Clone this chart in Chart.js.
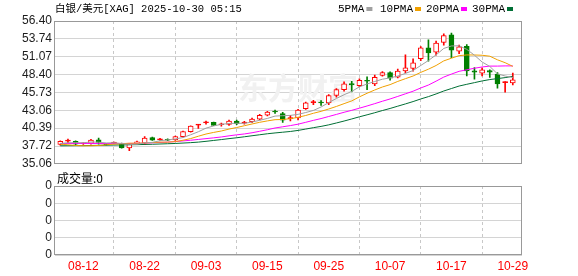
<!DOCTYPE html>
<html>
<head>
<meta charset="utf-8">
<script src="https://cdn.jsdelivr.net/npm/chart.js@4.4.1/dist/chart.umd.min.js"></script>
<style>
  body { margin: 0; background: #fff; }
  #wrap { position: relative; width: 578px; height: 276px; }
  canvas { position: absolute; left: 0; }
  #main { top: 0; }
  #vol { top: 166px; }
</style>
</head>
<body>
<div id="wrap">
  <canvas id="main" width="578" height="174"></canvas>
  <canvas id="vol" width="578" height="110"></canvas>
</div>
<script>
var dates = ['08-07','08-08','08-11','08-12','08-13','08-14','08-15','08-18','08-19','08-20',
  '08-21','08-22','08-25','08-26','08-27','08-28','08-29','09-01','09-02','09-03',
  '09-04','09-05','09-08','09-09','09-10','09-11','09-12','09-15','09-16','09-17',
  '09-18','09-19','09-22','09-23','09-24','09-25','09-26','09-29','09-30','10-01',
  '10-02','10-03','10-06','10-07','10-08','10-09','10-10','10-13','10-14','10-15',
  '10-16','10-17','10-20','10-21','10-22','10-23','10-24','10-27','10-28','10-29'];

var open = [37.95,38.45,38.40,38.05,38.10,38.63,37.95,38.15,38.10,37.42,
  38.12,38.15,38.99,38.65,38.70,38.63,39.13,39.87,40.85,41.20,
  41.24,40.90,40.95,41.44,41.15,41.35,41.73,42.32,42.95,42.57,
  41.80,41.90,43.30,44.20,44.30,44.15,45.27,46.15,47.05,46.75,
  47.55,47.00,48.25,48.68,48.00,48.94,49.32,50.76,52.40,51.76,
  53.21,54.34,51.88,52.62,48.94,48.60,49.00,48.45,47.20,47.13];
var high = [38.50,38.74,38.50,38.20,38.70,38.89,38.05,38.30,38.15,38.05,
  38.45,39.13,39.05,38.85,38.80,39.20,39.95,40.75,40.97,41.45,
  41.30,41.15,41.60,41.60,41.40,41.90,42.45,42.90,43.10,42.75,
  42.32,43.20,44.30,44.55,44.50,45.40,46.30,47.30,47.40,47.75,
  48.05,48.30,48.85,48.80,49.20,51.35,50.75,52.57,53.58,53.40,
  54.50,54.60,52.80,52.87,49.44,49.40,49.10,48.70,47.35,48.60];
var low = [37.85,38.22,37.90,37.95,38.00,38.00,37.85,38.05,37.40,37.02,
  38.05,37.93,38.55,38.55,38.50,38.55,39.05,39.80,40.36,41.00,
  40.75,40.70,40.80,40.90,41.00,41.20,41.60,42.20,42.60,41.24,
  41.45,41.60,43.20,43.90,43.80,43.90,45.00,45.90,45.80,46.60,
  46.15,46.75,48.15,47.55,47.90,48.65,48.90,50.46,50.40,51.30,
  52.80,50.91,51.50,48.20,47.72,48.20,47.97,46.35,45.75,46.83];
var close = [38.40,38.52,38.00,38.10,38.60,38.25,37.90,38.20,37.45,38.00,
  38.35,38.89,38.59,38.72,38.58,39.13,39.87,40.70,40.95,41.28,
  40.80,41.00,41.44,41.05,41.28,41.73,42.32,42.80,42.80,41.58,
  41.95,43.10,44.19,44.35,44.15,45.27,46.15,47.00,46.85,47.55,
  47.40,48.00,48.68,47.85,48.92,49.42,50.15,52.40,51.62,53.10,
  54.22,52.03,52.53,48.94,48.75,49.09,48.75,46.98,47.32,47.61];

var ma5 = [38.10,38.20,38.22,38.20,38.32,38.29,38.17,38.21,38.08,37.96,
  37.98,38.18,38.26,38.51,38.63,38.78,38.98,39.40,39.85,40.39,
  40.72,40.95,41.09,41.11,41.11,41.30,41.56,41.84,42.19,42.25,
  42.29,42.45,42.72,43.03,43.55,44.21,44.82,45.38,45.88,46.56,
  46.99,47.36,47.70,47.90,48.17,48.57,49.00,49.75,50.50,51.34,
  52.30,52.67,52.70,52.16,51.29,50.27,49.61,48.50,48.18,47.95];
var ma10 = [38.00,37.90,37.80,37.75,37.75,37.80,37.90,38.00,38.05,38.14,
  38.14,38.17,38.23,38.30,38.29,38.38,38.58,38.83,39.18,39.51,
  39.75,39.96,40.25,40.48,40.75,41.01,41.26,41.47,41.65,41.68,
  41.80,42.01,42.28,42.61,42.90,43.25,43.63,44.05,44.46,45.06,
  45.60,46.09,46.54,46.89,47.37,47.78,48.18,48.72,49.20,49.75,
  50.44,50.84,51.22,51.33,51.32,51.28,51.14,50.60,50.17,49.62];
var ma20 = [38.10,38.10,38.10,38.10,38.10,38.10,38.10,38.10,38.10,38.10,
  38.12,38.15,38.20,38.25,38.30,38.38,38.48,38.58,38.70,38.82,
  38.94,39.07,39.24,39.39,39.52,39.70,39.92,40.15,40.41,40.59,
  40.77,40.98,41.26,41.55,41.82,42.13,42.44,42.76,43.05,43.37,
  43.70,44.05,44.41,44.75,45.13,45.52,45.91,46.39,46.83,47.41,
  48.02,48.47,48.88,49.11,49.34,49.53,49.66,49.66,49.69,49.69];
var ma30 = [37.75,37.76,37.77,37.78,37.80,37.82,37.84,37.86,37.88,37.90,
  37.92,37.95,37.98,38.02,38.06,38.10,38.16,38.22,38.30,38.42,
  38.55,38.68,38.82,38.95,39.10,39.25,39.40,39.55,39.67,39.78,
  39.89,40.05,40.25,40.46,40.65,40.88,41.16,41.45,41.76,42.08,
  42.38,42.69,43.02,43.33,43.67,44.01,44.36,44.75,45.10,45.50,
  45.94,46.31,46.68,46.94,47.19,47.44,47.65,47.79,47.94,48.14];

var volume = [0,0,0,0,0,0,0,0,0,0, 0,0,0,0,0,0,0,0,0,0, 0,0,0,0,0,0,0,0,0,0,
  0,0,0,0,0,0,0,0,0,0, 0,0,0,0,0,0,0,0,0,0, 0,0,0,0,0,0,0,0,0,0];

var xTickLabels = ['08-12','08-22','09-03','09-15','09-25','10-07','10-17','10-29'];
var yTickLabels = ['35.06','37.72','40.39','43.06','45.73','48.40','51.07','53.74','56.40'];
var volTickLabels = ['0','0','0','0','0'];

var RED = '#ff0000', GREEN = '#008000';
var xTickIdx = xTickLabels.map(function(d) { return dates.indexOf(d); });
var yTickVals = yTickLabels.map(Number);

function pts(arr) {
  return arr.map(function(v, i) { return { x: i, y: v }; });
}

var isUp = close.map(function(c, i) { return c >= open[i]; });
var bodyFill = isUp.map(function(u, i) {
  if (!u) return GREEN;
  return (close[i] - open[i]) < 0.2 ? RED : '#ffffff';
});
var candleColor = isUp.map(function(u) { return u ? RED : GREEN; });

var frame = {
  id: 'frame',
  afterDraw: function(chart) {
    var a = chart.chartArea, c = chart.ctx;
    c.save();
    c.strokeStyle = '#999999';
    c.lineWidth = 1;
    c.strokeRect(Math.round(a.left) - 0.5, Math.round(a.top) + 0.5,
      Math.round(a.right - a.left), Math.round(a.bottom - a.top) - 1);
    c.restore();
  }
};

var headerText = {
  id: 'headerText',
  beforeDatasetsDraw: function(chart) {
    var c = chart.ctx;
    c.save();
    c.fillStyle = '#f1f1f1';
    c.font = 'bold 30px "Noto Sans CJK SC"';
    c.textAlign = 'left';
    c.textBaseline = 'middle';
    c.fillText('东方财富', 238, 88);
    c.restore();
  },
  afterDraw: function(chart) {
    var c = chart.ctx;
    c.save();
    c.fillStyle = '#000';
    c.textBaseline = 'middle';
    c.font = '10.5px "Liberation Mono", "Noto Sans CJK SC"';
    c.fillText('白银/美元[XAG] 2025-10-30 05:15', 55, 9);
    var items = [['5PMA', '#a0a0a0', 338], ['10PMA', '#f0a000', 380],
                 ['20PMA', '#ff00ff', 426], ['30PMA', '#006f35', 472]];
    c.font = '11px "Liberation Mono"';
    items.forEach(function(it) {
      c.fillStyle = '#000';
      c.fillText(it[0], it[2], 9);
      var w = c.measureText(it[0]).width;
      c.fillStyle = it[1];
      c.fillRect(it[2] + w + 2, 7, 6, 4);
    });
    c.restore();
  }
};

var tickFont = { family: '"Liberation Sans", Arial, sans-serif', size: 12 };

new Chart(document.getElementById('main'), {
  type: 'bar',
  data: {
    datasets: [
      { type: 'line', data: pts(ma5), borderColor: '#a0a0a0', borderWidth: 1, pointRadius: 0, order: -1 },
      { type: 'line', data: pts(ma10), borderColor: '#f0a000', borderWidth: 1, pointRadius: 0, order: -1 },
      { type: 'line', data: pts(ma20), borderColor: '#ff00ff', borderWidth: 1, pointRadius: 0, order: -1 },
      { type: 'line', data: pts(ma30), borderColor: '#006f35', borderWidth: 1, pointRadius: 0, order: -1 },
      {
        data: open.map(function(o, i) { return { x: i, y: [o, close[i]] }; }),
        backgroundColor: bodyFill, borderColor: candleColor, borderWidth: 1,
        borderSkipped: false, barThickness: 5, minBarLength: 1, grouped: false, order: 0
      },
      {
        data: low.map(function(l, i) { return { x: i, y: [l, high[i]] }; }),
        backgroundColor: candleColor, barThickness: 1, grouped: false, order: 1
      }
    ]
  },
  options: {
    responsive: false,
    animation: false,
    events: [],
    layout: { padding: { top: 21, right: 56, bottom: 8, left: 0 } },
    plugins: { legend: { display: false }, tooltip: { enabled: false } },
    scales: {
      x: {
        type: 'linear', min: -0.69, max: 60.2, offset: false,
        afterBuildTicks: function(s) { s.ticks = xTickIdx.map(function(v) { return { value: v }; }); },
        afterFit: function(s) { s.height = 0; },
        ticks: { display: false },
        grid: { color: '#c8c8c8', drawTicks: false },
        border: { display: false, dash: [3, 3] }
      },
      y: {
        min: 35.06, max: 56.40,
        afterBuildTicks: function(s) { s.ticks = yTickVals.map(function(v) { return { value: v }; }); },
        afterFit: function(s) { s.width = 55; },
        ticks: {
          autoSkip: false, padding: 3, color: '#1c1c1c', font: tickFont,
          callback: function(v, i) { return yTickLabels[i]; }
        },
        grid: { color: '#d4d4d4', drawTicks: false },
        border: { display: false }
      }
    }
  },
  plugins: [frame, headerText]
});

var volText = {
  id: 'volText',
  afterDraw: function(chart) {
    var c = chart.ctx;
    c.save();
    c.fillStyle = '#000';
    c.textBaseline = 'middle';
    c.font = '12px "Noto Sans CJK SC"';
    c.fillText('成交量:0', 57, 12);
    c.restore();
  }
};

new Chart(document.getElementById('vol'), {
  type: 'bar',
  data: {
    datasets: [{ data: pts(volume), backgroundColor: RED, barThickness: 5 }]
  },
  options: {
    responsive: false,
    animation: false,
    events: [],
    layout: { padding: { top: 20, right: 56, bottom: 0, left: 0 } },
    plugins: { legend: { display: false }, tooltip: { enabled: false } },
    scales: {
      x: {
        type: 'linear', min: -0.69, max: 60.2, offset: false,
        afterBuildTicks: function(s) { s.ticks = xTickIdx.map(function(v) { return { value: v }; }); },
        afterFit: function(s) { s.height = 21; },
        ticks: {
          autoSkip: false, maxRotation: 0, padding: 4, color: RED, font: tickFont,
          callback: function(v, i) { return xTickLabels[i]; }
        },
        grid: { color: '#c8c8c8', drawTicks: false },
        border: { display: false, dash: [3, 3] }
      },
      y: {
        min: 0, max: 4,
        afterBuildTicks: function(s) { s.ticks = volTickLabels.map(function(t, i) { return { value: i }; }); },
        afterFit: function(s) { s.width = 55; },
        ticks: {
          autoSkip: false, padding: 3, color: '#1c1c1c', font: tickFont,
          callback: function(v, i) { return volTickLabels[i]; }
        },
        grid: { color: '#d4d4d4', drawTicks: false },
        border: { display: false }
      }
    }
  },
  plugins: [frame, volText]
});
</script>
</body>
</html>
